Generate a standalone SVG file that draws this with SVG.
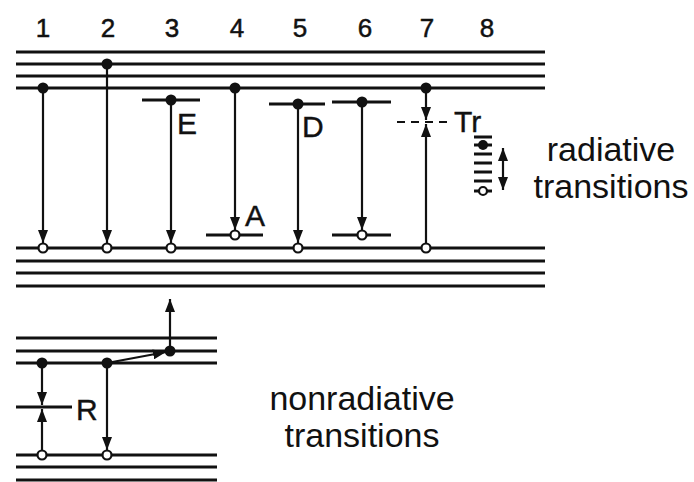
<svg xmlns="http://www.w3.org/2000/svg" width="694" height="482" viewBox="0 0 694 482">
<defs>
<style>
.lv{stroke:#111;stroke-width:3;fill:none}
.ar{stroke:#111;stroke-width:2.2;fill:none}
.dsh{stroke:#111;stroke-width:2.2;fill:none;stroke-dasharray:8 6}
.fd{fill:#111}
.od{fill:#fff;stroke:#111;stroke-width:2.2}
.num{font-family:"Liberation Sans",Arial,sans-serif;font-size:26px;fill:#111;stroke:#111;stroke-width:0.5;text-anchor:middle}
.lbl{font-family:"Liberation Sans",Arial,sans-serif;font-size:30px;fill:#111;stroke:#111;stroke-width:0.4}
.big{font-family:"Liberation Sans",Arial,sans-serif;font-size:34px;fill:#111;text-anchor:middle}
</style>
<marker id="ah" viewBox="0 0 13 10" refX="13" refY="5" markerWidth="13" markerHeight="10" markerUnits="userSpaceOnUse" orient="auto">
<path d="M0,0 L13,5 L0,10 z" fill="#111"/>
</marker>
<marker id="ahs" viewBox="0 0 13 10" refX="0" refY="5" markerWidth="13" markerHeight="10" markerUnits="userSpaceOnUse" orient="auto">
<path d="M13,0 L0,5 L13,10 z" fill="#111"/>
</marker>
</defs>
<rect width="694" height="482" fill="#fff"/>

<g id="numbers">
<text class="num" x="43" y="37">1</text>
<text class="num" x="108" y="37">2</text>
<text class="num" x="172" y="37">3</text>
<text class="num" x="237" y="37">4</text>
<text class="num" x="300" y="37">5</text>
<text class="num" x="365" y="37">6</text>
<text class="num" x="427" y="37">7</text>
<text class="num" x="487" y="37">8</text>
</g>

<g id="conduction-band-top">
<line class="lv" x1="16" y1="52" x2="545" y2="52"/>
<line class="lv" x1="16" y1="64" x2="545" y2="64"/>
<line class="lv" x1="16" y1="76" x2="545" y2="76"/>
<line class="lv" x1="16" y1="88" x2="545" y2="88"/>
</g>

<g id="valence-band-top">
<line class="lv" x1="16" y1="248" x2="545" y2="248"/>
<line class="lv" x1="16" y1="261" x2="545" y2="261"/>
<line class="lv" x1="16" y1="273" x2="545" y2="273"/>
<line class="lv" x1="16" y1="286" x2="545" y2="286"/>
</g>

<g id="level-E">
<line class="lv" x1="142" y1="100" x2="200" y2="100"/>
<text class="lbl" x="177" y="134">E</text>
</g>
<g id="level-D">
<line class="lv" x1="269" y1="104" x2="325" y2="104"/>
<text class="lbl" x="302" y="137">D</text>
</g>
<g id="level-6">
<line class="lv" x1="332" y1="102" x2="391" y2="102"/>
</g>
<g id="level-A">
<line class="lv" x1="206" y1="235" x2="263" y2="235"/>
<text class="lbl" x="245" y="226">A</text>
</g>
<g id="level-6-low">
<line class="lv" x1="332" y1="235" x2="391" y2="235"/>
</g>
<g id="level-Tr">
<line class="dsh" x1="397" y1="122" x2="452" y2="122"/>
<text class="lbl" x="454" y="132">Tr</text>
</g>

<g id="transition-8">
<line class="lv" x1="474" y1="137" x2="492" y2="137"/>
<line class="lv" x1="474" y1="145" x2="492" y2="145"/>
<line class="lv" x1="474" y1="154" x2="492" y2="154"/>
<line class="lv" x1="474" y1="163" x2="492" y2="163"/>
<line class="lv" x1="474" y1="172" x2="492" y2="172"/>
<line class="lv" x1="474" y1="181" x2="492" y2="181"/>
<line class="lv" x1="474" y1="191" x2="492" y2="191"/>
<circle class="fd" cx="483" cy="145" r="5"/>
<circle class="od" cx="483" cy="191" r="4"/>
</g>

<g id="label-radiative">
<text class="big" x="611" y="161">radiative</text>
<text class="big" x="611" y="198">transitions</text>
</g>

<g id="band-lower-top">
<line class="lv" x1="16" y1="338" x2="217" y2="338"/>
<line class="lv" x1="16" y1="351" x2="217" y2="351"/>
<line class="lv" x1="16" y1="363" x2="217" y2="363"/>
</g>
<g id="band-lower-bottom">
<line class="lv" x1="16" y1="455" x2="217" y2="455"/>
<line class="lv" x1="16" y1="467" x2="217" y2="467"/>
<line class="lv" x1="16" y1="480" x2="217" y2="480"/>
</g>
<g id="level-R">
<line class="lv" x1="16" y1="407" x2="72" y2="407"/>
<text class="lbl" x="76" y="420">R</text>
</g>

<g id="label-nonradiative">
<text class="big" x="362" y="410">nonradiative</text>
<text class="big" x="362" y="447">transitions</text>
</g>

<g id="connectors">
<line class="ar" x1="43" y1="88" x2="43" y2="243" marker-end="url(#ah)"/>
<line class="ar" x1="107" y1="64" x2="107" y2="243" marker-end="url(#ah)"/>
<line class="ar" x1="171" y1="100" x2="171" y2="243" marker-end="url(#ah)"/>
<line class="ar" x1="235" y1="88" x2="235" y2="230" marker-end="url(#ah)"/>
<line class="ar" x1="298" y1="104" x2="298" y2="243" marker-end="url(#ah)"/>
<line class="ar" x1="362" y1="102" x2="362" y2="230" marker-end="url(#ah)"/>
<line class="ar" x1="426" y1="88" x2="426" y2="120" marker-end="url(#ah)"/>
<line class="ar" x1="426" y1="248" x2="426" y2="124" marker-end="url(#ah)"/>
<line class="ar" x1="503" y1="148" x2="503" y2="190" marker-start="url(#ahs)" marker-end="url(#ah)"/>
<line class="ar" x1="42" y1="363" x2="42" y2="405" marker-end="url(#ah)"/>
<line class="ar" x1="42" y1="455" x2="42" y2="409" marker-end="url(#ah)"/>
<line class="ar" x1="107" y1="363" x2="107" y2="450" marker-end="url(#ah)"/>
<line class="ar" x1="107" y1="363" x2="166" y2="352" marker-end="url(#ah)"/>
<line class="ar" x1="170" y1="351" x2="170" y2="299" marker-end="url(#ah)"/>
</g>

<g id="carriers">
<circle class="fd" cx="43" cy="88" r="5.5"/>
<circle class="fd" cx="107" cy="64" r="5.5"/>
<circle class="fd" cx="171" cy="100" r="5.5"/>
<circle class="fd" cx="235" cy="88" r="5.5"/>
<circle class="fd" cx="298" cy="104" r="5.5"/>
<circle class="fd" cx="362" cy="102" r="5.5"/>
<circle class="fd" cx="426" cy="88" r="5.5"/>
<circle class="od" cx="43" cy="248" r="4.5"/>
<circle class="od" cx="107" cy="248" r="4.5"/>
<circle class="od" cx="171" cy="248" r="4.5"/>
<circle class="od" cx="235" cy="235" r="4.5"/>
<circle class="od" cx="298" cy="248" r="4.5"/>
<circle class="od" cx="362" cy="235" r="4.5"/>
<circle class="od" cx="426" cy="248" r="4.5"/>
<circle class="fd" cx="42" cy="363" r="5.5"/>
<circle class="fd" cx="107" cy="363" r="5.5"/>
<circle class="fd" cx="170" cy="351" r="5.5"/>
<circle class="od" cx="42" cy="455" r="4.5"/>
<circle class="od" cx="107" cy="455" r="4.5"/>
</g>
</svg>
